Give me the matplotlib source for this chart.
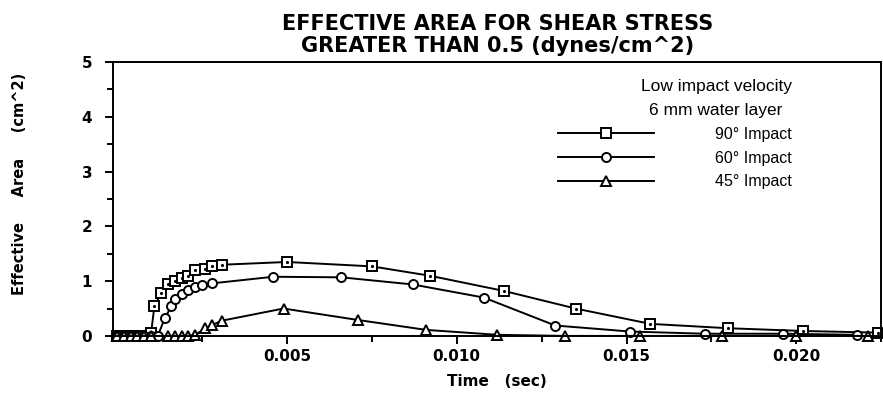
import matplotlib
matplotlib.use("Agg")
import matplotlib.pyplot as plt
from matplotlib.ticker import MultipleLocator, FixedLocator

plt.rcParams["font.family"] = ["DejaVu Sans"]

# 90 degree impact (squares)
t90 = [0.0, 0.0002, 0.0004, 0.0006, 0.0008, 0.0010, 0.0011, 0.0013, 0.0015,
       0.0017, 0.0019, 0.0021, 0.0023, 0.0026, 0.0028, 0.0031, 0.0050, 0.0075,
       0.0092, 0.0114, 0.0135, 0.0157, 0.0180, 0.0202, 0.0224]
a90 = [0, 0, 0, 0, 0, 0.05, 0.55, 0.78, 0.95, 1.0, 1.05, 1.1, 1.2, 1.23, 1.27,
       1.3, 1.35, 1.27, 1.1, 0.82, 0.5, 0.22, 0.14, 0.09, 0.06]

# 60 degree impact (circles)
t60 = [0.0, 0.0002, 0.0004, 0.0006, 0.0008, 0.0010, 0.0012, 0.0014, 0.0016,
       0.0017, 0.0019, 0.0021, 0.0023, 0.0025, 0.0028, 0.0046, 0.0066, 0.0087,
       0.0108, 0.0129, 0.0151, 0.0173, 0.0196, 0.0218]
a60 = [0, 0, 0, 0, 0, 0, 0, 0.32, 0.54, 0.67, 0.77, 0.83, 0.89, 0.93, 0.96,
       1.08, 1.07, 0.94, 0.7, 0.19, 0.08, 0.04, 0.04, 0.02]

# 45 degree impact (triangles)
t45 = [0.0, 0.0002, 0.0004, 0.0006, 0.0008, 0.0010, 0.0015, 0.0017, 0.0019,
       0.0021, 0.0023, 0.0026, 0.0028, 0.0031, 0.0049, 0.0071, 0.0091, 0.0112,
       0.0132, 0.0154, 0.0178, 0.0200, 0.0221]
a45 = [0, 0, 0, 0, 0, 0, 0, 0, 0, 0, 0.02, 0.14, 0.2, 0.28, 0.5, 0.29, 0.11,
       0.02, 0, 0, 0, 0, 0]

fig = plt.figure(figsize=(8.83, 3.98), dpi=100)
ax = fig.add_axes([0.128, 0.156, 0.870, 0.688])

style = dict(color="black", lw=1.4, ms=6.5, mfc="white", mew=1.4, clip_on=False)
ax.plot(t90, a90, marker="s", label="90° Impact", **style)
ax.plot(t90, a90, ls="none", marker=".", ms=2.5, color="black", clip_on=False)
ax.plot(t60, a60, marker="o", label="60° Impact", **style)
ax.plot(t45, a45, marker="^", label="45° Impact", **style)

ax.set_xlim(-0.00012, 0.0225)
ax.set_ylim(0, 5)
ax.xaxis.set_major_locator(FixedLocator([0.005, 0.010, 0.015, 0.020]))
ax.xaxis.set_minor_locator(MultipleLocator(0.0025))
ax.set_xticklabels(["0.005", "0.010", "0.015", "0.020"])
ax.yaxis.set_major_locator(MultipleLocator(1))
ax.yaxis.set_minor_locator(MultipleLocator(0.5))
ax.tick_params(which="both", direction="out", width=1.4, labelsize=11)
ax.tick_params(axis="y", pad=9)
ax.tick_params(which="major", length=6)
ax.tick_params(which="minor", length=4)
for lab in ax.get_xticklabels() + ax.get_yticklabels():
    lab.set_fontweight("bold")
for s in ax.spines.values():
    s.set_linewidth(1.4)

ax.set_xlabel("Time   (sec)", fontsize=11, fontweight="bold", labelpad=7)
ax.set_ylabel("Effective     Area     (cm^2)", fontsize=10.5, fontweight="bold")
ax.yaxis.set_label_coords(-0.112, 0.555)
ax.set_title("EFFECTIVE AREA FOR SHEAR STRESS\nGREATER THAN 0.5 (dynes/cm^2)",
             fontsize=15, fontweight="bold", pad=7, linespacing=1.15)

leg = ax.legend(loc="upper right", frameon=False,
                prop={"family": "Liberation Sans", "size": 11.5},
                title="Low impact velocity\n6 mm water layer",
                handlelength=6.0, handletextpad=3.8, borderaxespad=0.4,
                labelspacing=0.55, bbox_to_anchor=(0.9, 0.985),
                alignment="right")
leg.get_title().set_fontproperties({"family": "Liberation Sans", "size": 12.5})
leg.get_title().set_multialignment("center")
leg.get_title().set_linespacing(1.75)

fig.savefig("out.png", dpi=100)
